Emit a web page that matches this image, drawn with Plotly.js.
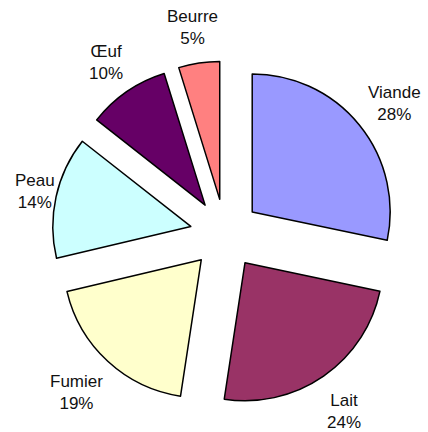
<!DOCTYPE html>
<html><head><meta charset="utf-8">
<script src="https://cdn.plot.ly/plotly-3.0.1.min.js"></script>
<style>html,body{margin:0;padding:0;background:#fff}#chart{width:428px;height:432px}</style>
</head><body><div id="chart"></div>
<script>
const labels = ["Viande", "Lait", "Fumier", "Peau", "Œuf", "Beurre"];
const values = [28.3, 24.1, 18.9, 14.3, 9.6, 4.8];
const colors = ["#9999FF", "#993366", "#FFFFCC", "#CCFFFF", "#660066", "#FF8080"];
const pullAmount = 0.254;

const W = 428, H = 432;
const margin = {l: 52, r: 30, t: 61, b: 25};
const plotW = W - margin.l - margin.r;
const plotH = H - margin.t - margin.b;
const FONT = "Liberation Sans, Arial, sans-serif";
const FS = 17;

// label placement derived from slice mid-angles
const total = values.reduce((a, b) => a + b, 0);
const ctx = document.createElement("canvas").getContext("2d");
ctx.font = FS + "px 'Liberation Sans'";
const R0 = 192;      // px, distance of label box edge from pie centre
const halfH = 20;    // px, half height of two-line label
const yShift = 3;    // px, baseline correction
const minLeft = 15, maxRight = W - 4;
const cxPx = margin.l + plotW / 2, cyPx = margin.t + plotH / 2;
let cum = 0;
const annotations = labels.map((lab, i) => {
  const pct = Math.round(values[i] / total * 100) + "%";
  const mid = (cum + values[i] / 2) / total * 2 * Math.PI;
  cum += values[i];
  const s = Math.sin(mid), c = Math.cos(mid);
  const hw = Math.max(ctx.measureText(lab).width, ctx.measureText(pct).width) / 2;
  let px = cxPx + (R0 + hw) * s;
  const py = cyPx - (R0 + halfH) * c + yShift;
  if (px - hw < minLeft) px = minLeft + hw;
  if (px + hw > maxRight) px = maxRight - hw;
  return {
    xref: "paper", yref: "paper",
    x: (px - margin.l) / plotW,
    y: 1 - (py - margin.t) / plotH,
    xanchor: "center", yanchor: "middle",
    showarrow: false,
    text: lab + "<br>" + pct,
    font: {family: FONT, size: FS, color: "#111"}
  };
});

Plotly.newPlot("chart", [{
  type: "pie",
  labels: labels,
  values: values,
  sort: false,
  direction: "clockwise",
  rotation: 0,
  pull: values.map(() => pullAmount),
  marker: {colors: colors, line: {color: "#000", width: 1.5}},
  textposition: "none",
  hoverinfo: "none",
  showlegend: false
}], {
  width: W, height: H,
  margin: margin,
  paper_bgcolor: "#fff",
  showlegend: false,
  annotations: annotations
}, {displayModeBar: false, staticPlot: true});
</script></body></html>
